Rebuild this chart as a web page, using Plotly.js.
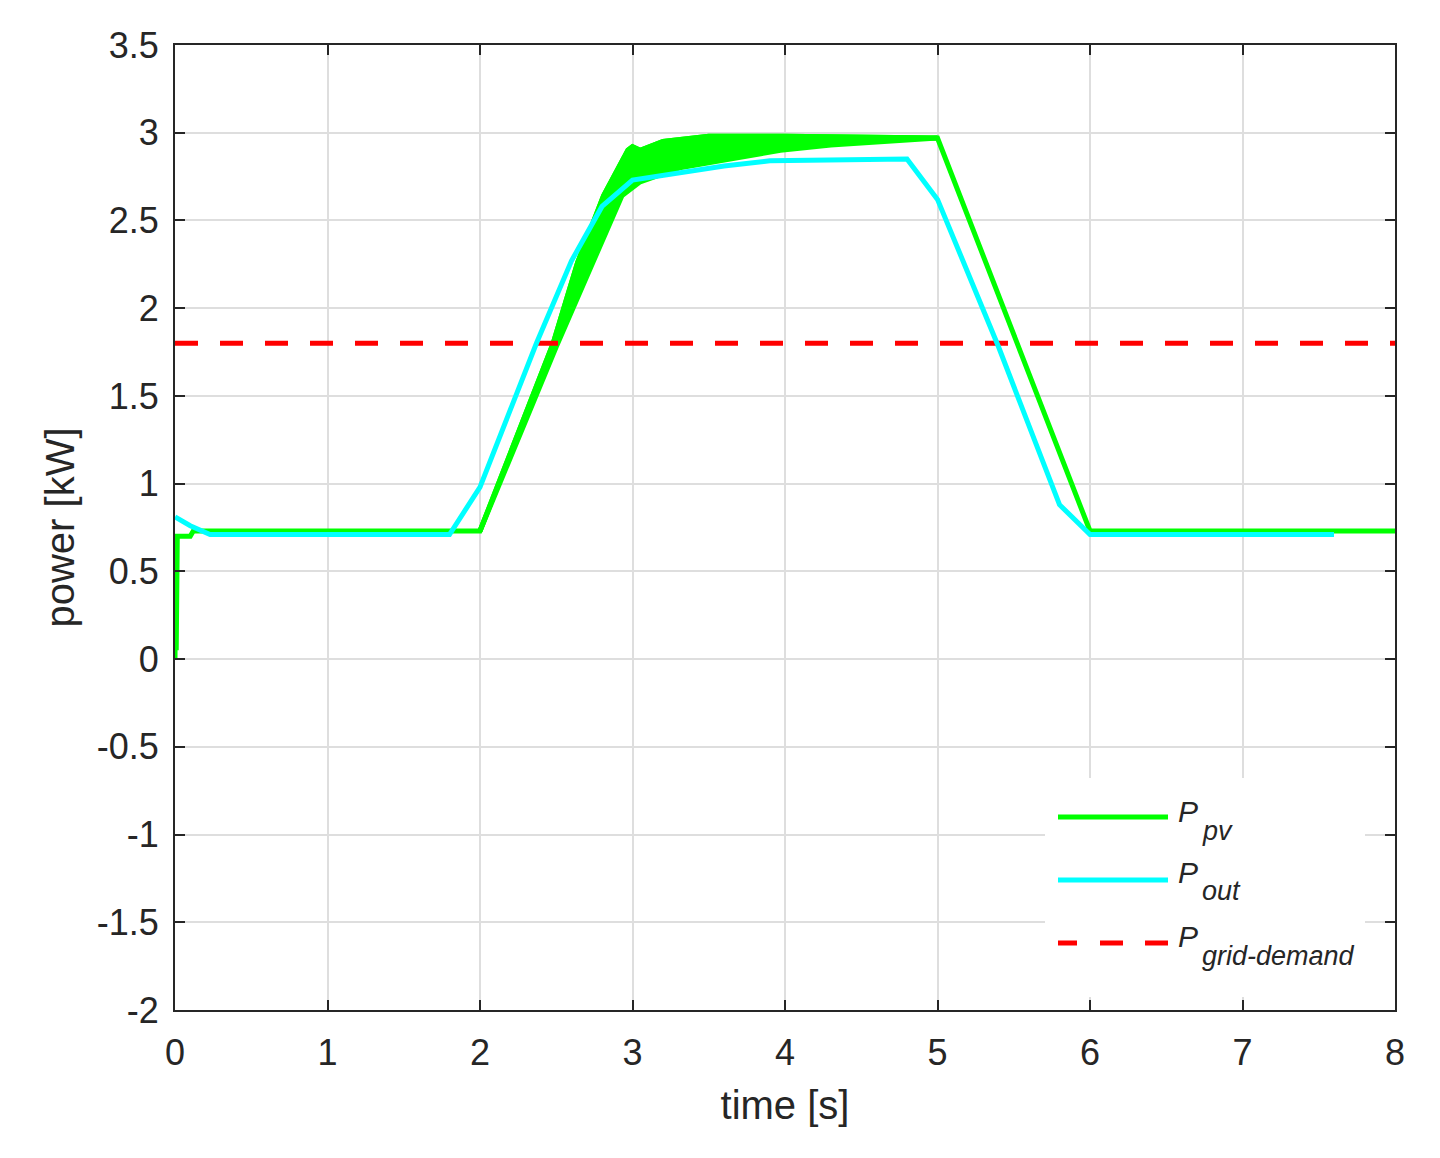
<!DOCTYPE html>
<html>
<head>
<meta charset="utf-8">
<script src="https://cdn.plot.ly/plotly-3.0.1.min.js"></script>
<style>
html,body{margin:0;padding:0;background:#ffffff;}
#chart{width:1440px;height:1158px;}
</style>
</head>
<body>
<div id="chart"></div>
<script>
// ---- data ----
// P_pv (upper edge of the rippling green band, full run)
const pvTime  = [0, 0.004, 0.008, 0.015, 0.1, 0.12, 2.0, 2.48, 2.64, 2.81, 2.97, 3.0, 3.05, 3.2, 3.5, 4.0, 5.0, 6.0, 8.0];
const pvPower = [0, 0.52, 0.05, 0.70, 0.70, 0.73, 0.73, 1.80, 2.26, 2.64, 2.90, 2.92, 2.90, 2.95, 2.98, 2.98, 2.97, 0.73, 0.73];
// P_pv lower edge of the ripple band
const pvLowTime  = [2.0, 2.5, 2.74, 2.93, 3.05, 3.31, 3.64, 3.97, 4.30, 4.62, 5.0];
const pvLowPower = [0.73, 1.78, 2.26, 2.64, 2.72, 2.80, 2.85, 2.90, 2.93, 2.95, 2.97];
// P_out
const outTime  = [0, 0.1, 0.23, 1.8, 2.0, 2.37, 2.6, 2.8, 3.0, 3.3, 3.6, 3.9, 4.8, 5.0, 5.4, 5.8, 6.0, 7.6];
const outPower = [0.81, 0.76, 0.71, 0.71, 0.98, 1.80, 2.27, 2.58, 2.73, 2.77, 2.81, 2.84, 2.85, 2.62, 1.78, 0.88, 0.71, 0.71];
// P_grid-demand
const gridTime  = [0, 8];
const gridPower = [1.8, 1.8];

// ticks
const xTickVals = [0, 1, 2, 3, 4, 5, 6, 7, 8];
const xTickText = ['0', '1', '2', '3', '4', '5', '6', '7', '8'];
const yTickVals = [-2, -1.5, -1, -0.5, 0, 0.5, 1, 1.5, 2, 2.5, 3, 3.5];
const yTickText = ['-2', '-1.5', '-1', '-0.5', '0', '0.5', '1', '1.5', '2', '2.5', '3', '3.5'];

// legend labels
const legendMain = ['P', 'P', 'P'];
const legendSub  = ['pv', 'out', 'grid-demand'];

// ---- styling ----
const GREEN = '#00ff00', CYAN = '#00ffff', RED = '#ff0000';
const AX = '#262626';
const FONT = 'Liberation Sans, Arial, Helvetica, sans-serif';
const LW = 5;

// upper edge of the ripple band = part of P_pv within the band's time span
const bandStart = pvLowTime[0], bandEnd = pvLowTime[pvLowTime.length - 1];
const bandTime = [], bandPower = [];
pvTime.forEach((t, i) => { if (t >= bandStart && t <= bandEnd) { bandTime.push(t); bandPower.push(pvPower[i]); } });

const traces = [
  {x: pvLowTime, y: pvLowPower, type: 'scatter', mode: 'lines', name: 'P_pv ripple (low)',
   line: {color: GREEN, width: LW}, showlegend: false, hoverinfo: 'skip'},
  {x: bandTime, y: bandPower, type: 'scatter', mode: 'lines', name: 'P_pv ripple (high)',
   line: {color: GREEN, width: LW}, fill: 'tonexty', fillcolor: GREEN, showlegend: false, hoverinfo: 'skip'},
  {x: pvTime, y: pvPower, type: 'scatter', mode: 'lines', name: 'P_pv',
   line: {color: GREEN, width: LW}, showlegend: false},
  {x: gridTime, y: gridPower, type: 'scatter', mode: 'lines', name: 'P_grid-demand',
   line: {color: RED, width: LW, dash: '23px,22px'}, showlegend: false},
  {x: outTime, y: outPower, type: 'scatter', mode: 'lines', name: 'P_out',
   line: {color: CYAN, width: LW}, showlegend: false}
];

// plot area in pixels: x 175..1395, y 45..1010
const L = 175, R = 1395, T = 45, B = 1010;
const px = v => (v - L) / (R - L);
const py = v => (B - v) / (B - T);

const legColors = [GREEN, CYAN, RED];
const legDash = ['solid', 'solid', '19px,23px,23px,22px,23px,100px'];
const legLineY = [817, 880, 943];
const legPCenter = [811.6, 872.6, 936.6];
const legSubCenter = [831.3, 891.3, 956.3];

const shapes = [
  {type: 'rect', xref: 'paper', yref: 'paper', x0: px(1045), x1: px(1365), y0: py(997), y1: py(778),
   fillcolor: '#ffffff', line: {width: 0}, layer: 'above'}
];
const annotations = [];
for (let i = 0; i < 3; i++) {
  shapes.push({type: 'line', xref: 'paper', yref: 'paper', x0: px(1058), x1: px(1168),
    y0: py(legLineY[i]), y1: py(legLineY[i]), line: {color: legColors[i], width: LW, dash: legDash[i]}, layer: 'above'});
  annotations.push({xref: 'paper', yref: 'paper', x: px(1176), y: py(legPCenter[i]), xanchor: 'left', yanchor: 'middle',
    text: '<i>' + legendMain[i] + '</i>', showarrow: false, font: {family: FONT, size: 30, color: AX}});
  annotations.push({xref: 'paper', yref: 'paper', x: px(1200), y: py(legSubCenter[i]), xanchor: 'left', yanchor: 'middle',
    text: '<i>' + legendSub[i] + '</i>', showarrow: false, font: {family: FONT, size: 27, color: AX}});
}

const axisCommon = {
  ticks: 'inside', ticklen: 10, tickwidth: 2, tickcolor: AX,
  showline: true, linecolor: AX, linewidth: 2, mirror: 'ticks',
  showgrid: true, gridcolor: '#dedede', gridwidth: 2, zeroline: false,
  tickfont: {family: FONT, size: 36, color: AX},
  automargin: false, fixedrange: true
};

const layout = {
  width: 1440, height: 1158,
  margin: {l: L, r: 1440 - R, t: T, b: 1158 - B, pad: 0},
  paper_bgcolor: '#ffffff', plot_bgcolor: '#ffffff',
  showlegend: false,
  font: {family: FONT, color: AX},
  xaxis: Object.assign({}, axisCommon, {
    range: [0, 8], tickmode: 'array', tickvals: xTickVals, ticktext: xTickText,
    ticklabelstandoff: 10,
    title: {text: 'time [s]', font: {family: FONT, size: 40, color: AX}, standoff: 19}
  }),
  yaxis: Object.assign({}, axisCommon, {
    range: [-2, 3.5], tickmode: 'array', tickvals: yTickVals, ticktext: yTickText,
    ticklabelstandoff: 7,
    title: {text: 'power [kW]', font: {family: FONT, size: 40, color: AX}, standoff: 10}
  }),
  shapes: shapes,
  annotations: annotations
};

Plotly.newPlot('chart', traces, layout, {displayModeBar: false, staticPlot: true});
</script>
</body>
</html>
